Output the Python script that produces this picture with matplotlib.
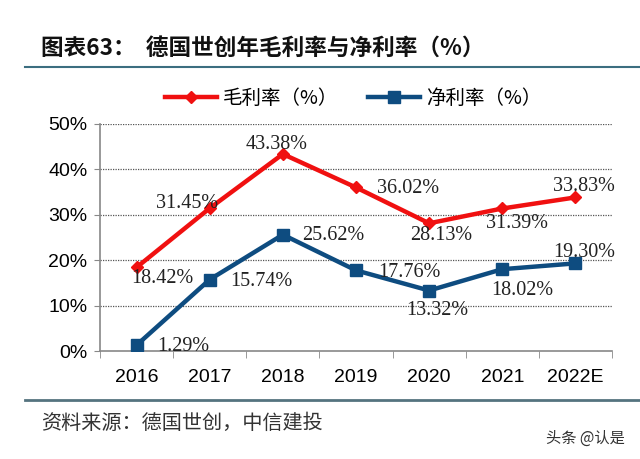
import matplotlib
matplotlib.use('Agg')
import matplotlib.pyplot as plt
from matplotlib.lines import Line2D

plt.rcParams['font.family'] = ['Liberation Sans', 'Noto Sans CJK SC', 'DejaVu Sans']

# 数据
years = ['2016', '2017', '2018', '2019', '2020', '2021', '2022E']
gross = [18.42, 31.45, 43.38, 36.02, 28.13, 31.39, 33.83]
net = [1.29, 15.74, 25.62, 17.76, 13.32, 18.02, 19.30]
y_ticks = [0, 10, 20, 30, 40, 50]

# 标签偏移 (像素)
gross_off = [(26, -11), (-23, 5), (-6, 10), (52, -1), (12, -12), (15, -15), (9, 11)]
net_off = [(47, -1), (52, -2), (50, -1), (53, -2), (8, -20), (20, -21), (9, 11)]

RED = '#F01010'
BLUE = '#0E4C80'
CJK = ['Noto Sans CJK SC', 'DejaVu Sans']

fig = plt.figure(figsize=(6.4, 4.59), dpi=100)
ax = fig.add_axes([100 / 640, 1 - 351 / 459, 512 / 640, 227 / 459])

x = list(range(len(years)))
ax.plot(x, gross, color=RED, lw=3.2, marker='D', ms=6, zorder=3)
ax.plot(x, net, color=BLUE, lw=3.2, marker='s', ms=9, zorder=3)

for i in x:
    ax.annotate(f'{gross[i]:.2f}%', (i, gross[i]), xytext=gross_off[i], textcoords='offset pixels',
                ha='center', va='center', fontsize=14.5, family='Liberation Serif', color='#222222', zorder=4)
    ax.annotate(f'{net[i]:.2f}%', (i, net[i]), xytext=net_off[i], textcoords='offset pixels',
                ha='center', va='center', fontsize=14.5, family='Liberation Serif', color='#222222', zorder=4)

ax.set_xlim(-0.5, len(years) - 0.5)
ax.set_ylim(0, 50)
ax.set_yticks(y_ticks)
ax.set_yticklabels([f'{v}%' for v in y_ticks], fontsize=14)
ax.set_xticks(x)
ax.set_xticklabels(years, fontsize=14)
ax.set_xticks([i - 0.5 for i in range(len(years) + 1)], minor=True)
ax.tick_params(axis='x', which='major', length=0, pad=13)
ax.tick_params(axis='x', which='minor', length=5, color='#888888', direction='out')
ax.tick_params(axis='y', length=4, color='#888888', pad=5)

for v in y_ticks[1:]:
    ax.axhline(v, color='#555555', lw=0.9, ls=(0, (1, 1)), zorder=1)

for s in ['top', 'right']:
    ax.spines[s].set_visible(False)
ax.spines['left'].set_color('#888888')
ax.spines['bottom'].set_color('#888888')
ax.spines['left'].set_linewidth(1.2)
ax.spines['bottom'].set_linewidth(1.2)

# 图例
handles = [Line2D([], [], color=RED, lw=3.2, marker='D', ms=6),
           Line2D([], [], color=BLUE, lw=3.2, marker='s', ms=9)]
fig.legend(handles, ['毛利率（%）', '净利率（%）'], loc='center', bbox_to_anchor=(353 / 640, 1 - 98 / 459),
           ncol=2, frameon=False, handlelength=2.7, columnspacing=1.5, handletextpad=0.3,
           prop={'family': CJK, 'size': 14})

# 标题与线
fig.text(41 / 640, 1 - 48 / 459, '图表63：  德国世创年毛利率与净利率（%）', fontsize=16.3, fontweight='bold',
         family=CJK, ha='left', va='center', color='#111111')
fig.add_artist(Line2D([25 / 640, 1], [1 - 67 / 459] * 2, color='#3C6E80', lw=1.5))
fig.add_artist(Line2D([25 / 640, 1], [1 - 400 / 459] * 2, color='#55737F', lw=2))

fig.text(41 / 640, 1 - 423 / 459, '资料来源：德国世创，中信建投', fontsize=14.5, family=CJK,
         ha='left', va='center', color='#333333')
fig.text(585 / 640, 1 - 438 / 459, '头条 @认是', fontsize=11, family=CJK,
         ha='center', va='center', color='#333333')

fig.savefig('out.png', dpi=100)
